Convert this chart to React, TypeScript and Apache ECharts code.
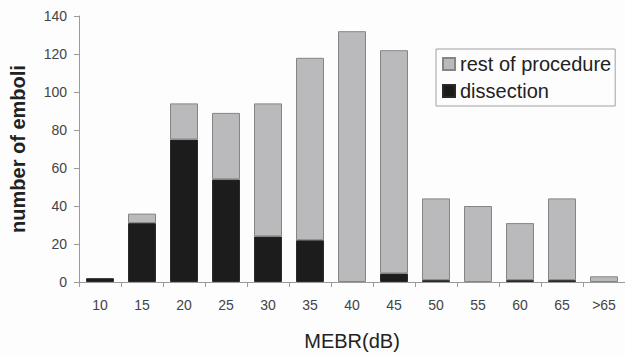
import React, { useEffect, useRef } from "react";
import * as echarts from "echarts";

const categories = ["10", "15", "20", "25", "30", "35", "40", "45", "50", "55", "60", "65", ">65"];
const dissection = [2, 31, 75, 54, 24, 22, 0, 4.5, 1, 0, 1, 1, 0];
const restOfProcedure = [0, 5, 19, 35, 70, 96, 132, 117.5, 43, 40, 30, 43, 3];
const yTicks = { min: 0, max: 140, interval: 20 };

const noZero = (arr: number[]) => arr.map((v) => (v === 0 ? null : v));
const FONT = "Liberation Sans, Arial, sans-serif";

export default function App() {
  const ref = useRef<HTMLDivElement>(null);
  useEffect(() => {
    if (!ref.current) return;
    const chart = echarts.init(ref.current, undefined, { renderer: "svg" });
    chart.setOption({
      animation: false,
      backgroundColor: "#fdfdfd",
      grid: { left: 70, right: 0, top: 16, bottom: 63, containLabel: false },
      legend: {
        orient: "vertical",
        left: 436,
        top: 49,
        icon: "rect",
        data: ["rest of procedure", "dissection"],
        borderColor: "#a0a0a0",
        borderWidth: 1,
        padding: [5, 4, 5, 6],
        itemWidth: 12,
        itemHeight: 12,
        itemGap: 7,
        textStyle: { fontSize: 20, color: "#222", fontFamily: FONT },
      },
      xAxis: {
        type: "category",
        data: categories,
        boundaryGap: true,
        name: "MEBR(dB)",
        nameLocation: "middle",
        nameGap: 49,
        nameTextStyle: { fontSize: 20, color: "#222", fontFamily: FONT },
        axisLine: { lineStyle: { color: "#9a9a9a", width: 1 } },
        axisTick: { show: true, length: 5, lineStyle: { color: "#9a9a9a" } },
        axisLabel: { fontSize: 14, color: "#444", margin: 16, fontFamily: FONT },
      },
      yAxis: {
        type: "value",
        min: yTicks.min,
        max: yTicks.max,
        interval: yTicks.interval,
        name: "number of emboli",
        nameLocation: "middle",
        nameGap: 51,
        nameTextStyle: { fontSize: 20, fontWeight: "bold", color: "#222", fontFamily: FONT },
        axisLine: { show: true, lineStyle: { color: "#9a9a9a", width: 1 } },
        axisTick: { show: true, length: 5, lineStyle: { color: "#9a9a9a" } },
        splitLine: { show: false },
        axisLabel: { fontSize: 14, color: "#444", margin: 12, fontFamily: FONT },
      },
      series: [
        {
          name: "dissection",
          type: "bar",
          stack: "total",
          data: noZero(dissection),
          barWidth: 28,
          itemStyle: { color: "#1c1c1c", borderColor: "#2a2a2a", borderWidth: 1 },
        },
        {
          name: "rest of procedure",
          type: "bar",
          stack: "total",
          data: noZero(restOfProcedure),
          barWidth: 28,
          itemStyle: { color: "#bababc", borderColor: "#858585", borderWidth: 1 },
        },
      ],
    });
    return () => chart.dispose();
  }, []);
  return <div ref={ref} style={{ position: "fixed", left: 0, top: 0, width: 625, height: 356 }} />;
}
